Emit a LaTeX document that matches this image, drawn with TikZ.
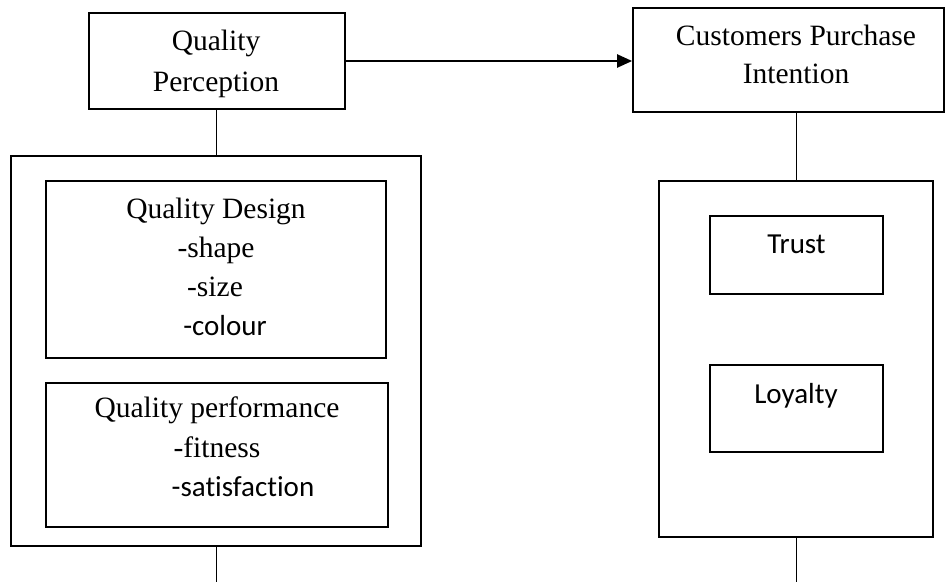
\documentclass[tikz,border=0pt]{standalone}
\usepackage{fontspec}
\setmainfont[Ligatures=NoCommon]{Liberation Serif}
\newfontfamily\calibrifont[Ligatures=NoCommon]{Carlito}
\usetikzlibrary{arrows.meta}
\tikzset{
  box/.style={draw=black, line width=1.7pt, rectangle, inner sep=0pt},
  txt/.style={inner sep=0pt, anchor=base, font=\fontsize{29.5}{35}\selectfont},
  ctxt/.style={txt, font=\calibrifont\fontsize{29}{35}\selectfont},
  link/.style={draw=black, line width=0.9pt},
  arrowlink/.style={draw=black, line width=2.2pt, -{Triangle[length=15pt,width=13pt]}}
}
\begin{document}
\begin{tikzpicture}[x=1pt,y=-1pt]
\useasboundingbox (0,0) rectangle (947,582);
% boxes
\node[box, minimum width=256pt, minimum height=96pt] (qp) at (217,61) {};
\node[box, minimum width=311pt, minimum height=104pt] (cpi) at (788.5,60) {};
\node[box, minimum width=410pt, minimum height=390pt] (lo) at (216,351) {};
\node[box, minimum width=340pt, minimum height=177pt] (qd) at (216,269.5) {};
\node[box, minimum width=342pt, minimum height=144pt] (qf) at (217,455) {};
\node[box, minimum width=274pt, minimum height=356pt] (ro) at (796,359) {};
\node[box, minimum width=173pt, minimum height=78pt] (tr) at (796.5,255) {};
\node[box, minimum width=173pt, minimum height=87pt] (ly) at (796.5,408.5) {};
% texts
\node[txt] (qpa) at (216,50) {Quality};
\node[txt] (qpb) at (216,91) {Perception};
\node[txt] (cpia) at (796,45) {Customers Purchase};
\node[txt] (cpib) at (796,83) {Intention};
\node[txt] (qda) at (216,218) {Quality Design};
\node[txt] (qdb) at (216,257) {-shape};
\node[txt] (qdc) at (215,296) {-size};
\node[ctxt] (qdd) at (225,335) {-colour};
\node[txt] (qfa) at (217,417) {Quality performance};
\node[txt] (qfb) at (217,457) {-fitness};
\node[ctxt] (qfc) at (243,496) {-satisfaction};
\node[ctxt] (trt) at (796.5,253) {Trust};
\node[ctxt] (lyt) at (796,403) {Loyalty};
% free ends
\coordinate (lend) at (216,582);
\coordinate (rend) at (796,582);
% connectors
\draw[arrowlink] (qp.east) -- (qp.east -| cpi.west);
\draw[link] (qp.south -| lo.north) -- (lo.north);
\draw[link] (ro.north) -- (ro.north |- cpi.south);
\draw[link] (lo.south) -- (lend);
\draw[link] (ro.south) -- (rend);
\end{tikzpicture}
\end{document}
